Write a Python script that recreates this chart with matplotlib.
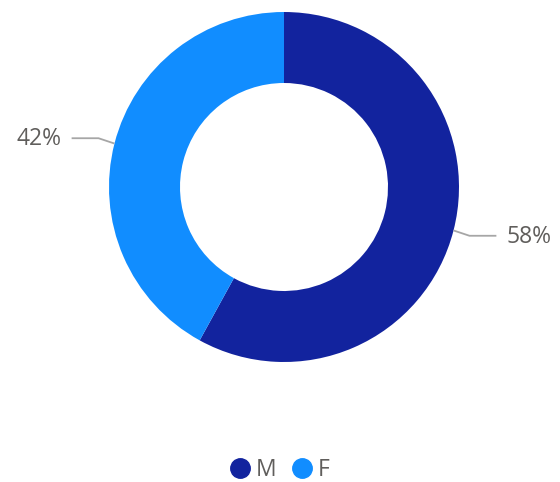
import matplotlib.pyplot as plt
from matplotlib.lines import Line2D
import numpy as np

# data
labels = ['M', 'F']
values = [58, 42]
colors = ['#12239E', '#118DFF']
text_color = '#605E5C'
line_color = '#A6A6A6'

plt.rcParams['font.family'] = ['Open Sans', 'DejaVu Sans']

W, H = 560, 482
fig = plt.figure(figsize=(W / 100, H / 100), dpi=100)
ax = fig.add_axes([0, 0, 1, 1])

cx, cy, r_out, r_in = 284, H - 187, 175, 104
wedges, _ = ax.pie(values, colors=colors, startangle=90, counterclock=False,
                   center=(cx, cy), radius=r_out, frame=True,
                   wedgeprops=dict(width=r_out - r_in, linewidth=0))
ax.set_xlim(0, W)
ax.set_ylim(0, H)
ax.set_aspect('equal')
ax.axis('off')

# leader lines and percent labels
total = sum(values)
for w, v in zip(wedges, values):
    mid = np.deg2rad((w.theta1 + w.theta2) / 2)
    x0, y0 = cx + (r_out + 1) * np.cos(mid), cy + (r_out + 1) * np.sin(mid)
    side = 1 if np.cos(mid) > 0 else -1
    x1, y1 = x0 + side * 15, y0 + 5 * np.sign(np.sin(mid))
    x2 = x1 + side * 26
    ax.plot([x0, x1, x2], [y0, y1, y1], color=line_color, lw=1.3)
    ax.text(x2 + side * 11, y1 - 1, f'{round(100 * v / total)}%',
            ha='left' if side > 0 else 'right', va='center',
            fontsize=16.5, color=text_color)

handles = [Line2D([], [], marker='o', linestyle='', markersize=14,
                  markerfacecolor=c, markeredgecolor=c) for c in colors]
leg = fig.legend(handles, labels, loc='center', bbox_to_anchor=(0.5, 1 - 470 / H),
                 ncol=2, frameon=False, fontsize=16.5, handlelength=0.8,
                 handletextpad=0.3, columnspacing=0.7, labelcolor=text_color)

fig.savefig('out.png', dpi=100)
